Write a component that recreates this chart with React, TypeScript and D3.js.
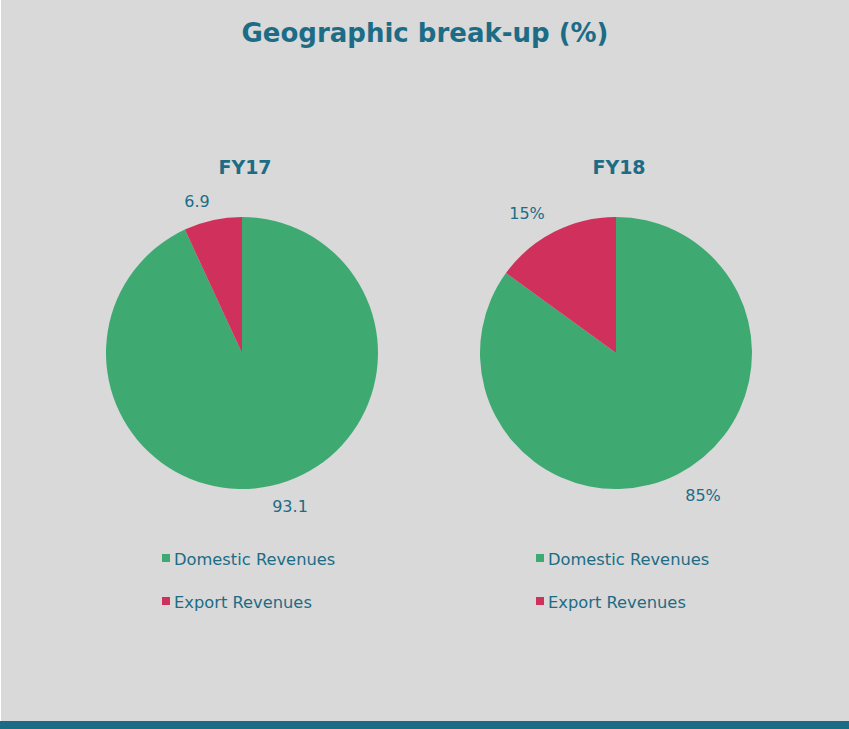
import React from "react";
import * as d3 from "d3";

const categories = ["Domestic Revenues", "Export Revenues"];
const fy17Values = [93.1, 6.9];
const fy18Values = [85, 15];
const fy17Labels = ["93.1", "6.9"];
const fy18Labels = ["85%", "15%"];
const chartTitles = ["FY17", "FY18"];
const colors = ["#3eaa72", "#cf315c"];

const W = 849;
const H = 729;
const TEXT = "#1d6c86";
const FONT = "'DejaVu Sans', sans-serif";

function Pie({ cx, values, labels, title, labelPos }: any) {
  const cy = 353;
  const r = 136;
  const pie = d3.pie<number>().sort(null).value((d) => d);
  const arcs = pie(values);
  const arc = d3.arc<d3.PieArcDatum<number>>().innerRadius(0).outerRadius(r);
  return (
    <g>
      <text x={cx + 3} y={174} textAnchor="middle" fill={TEXT} fontSize={19} fontWeight="bold" fontFamily={FONT}>
        {title}
      </text>
      <g transform={`translate(${cx},${cy})`}>
        {arcs.map((a, i) => (
          <path key={i} d={arc(a) || ""} fill={colors[i]} />
        ))}
      </g>
      {labels.map((l: string, i: number) => (
        <text key={i} x={labelPos[i][0]} y={labelPos[i][1]} textAnchor="middle" fill={TEXT} fontSize={16} fontFamily={FONT}>
          {l}
        </text>
      ))}
      {categories.map((c, i) => (
        <g key={c}>
          <rect x={cx - 80} y={554 + i * 43} width={8} height={8} fill={colors[i]} />
          <text x={cx - 68} y={565 + i * 43} fill={TEXT} fontSize={16.3} fontFamily={FONT}>
            {c}
          </text>
        </g>
      ))}
    </g>
  );
}

export default function App() {
  return (
    <svg width={W} height={H} style={{ position: "absolute", left: 0, top: 0 }}>
      <rect x={0} y={0} width={W} height={H} fill="#d9d9d9" />
      <rect x={0} y={0} width={1} height={H} fill="#ffffff" />
      <rect x={0} y={721} width={W} height={8} fill="#1a6b86" />
      <text x={425} y={42} textAnchor="middle" fill={TEXT} fontSize={26} fontWeight="bold" fontFamily={FONT}>
        Geographic break-up (%)
      </text>
      <Pie cx={242} values={fy17Values} labels={fy17Labels} title={chartTitles[0]} labelPos={[[290, 512], [197, 207]]} />
      <Pie cx={616} values={fy18Values} labels={fy18Labels} title={chartTitles[1]} labelPos={[[703, 501], [527, 219]]} />
    </svg>
  );
}
